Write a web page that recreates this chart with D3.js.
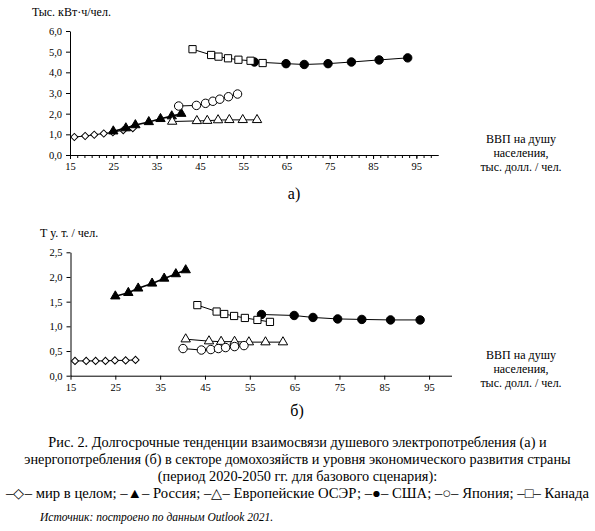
<!DOCTYPE html>
<html>
<head>
<meta charset="utf-8">
<script src="https://cdn.jsdelivr.net/npm/d3@7"></script>
<style>
  body { margin: 0; background: #fff; }
  .domain, .tick line { stroke: #000; }
  .tick text { fill: #000; }
</style>
</head>
<body>
<svg id="chart" width="595" height="531"></svg>
<script>
// --- data ---
const years = [2020, 2025, 2030, 2035, 2040, 2045, 2050];
const xTicks = [15, 25, 35, 45, 55, 65, 75, 85, 95];

// GDP per capita, thous. USD / person
const gdpWorld = [16, 18.5, 20.6, 22.8, 24.9, 27.3, 29.5];
const gdpRussia = [25, 27.9, 30.1, 33.2, 35.9, 38.5, 40.7];
const gdpEuropeA = [38.6, 44.3, 46.7, 49.2, 51.8, 54.9, 58.2];
const gdpEuropeB = [40.7, 45.9, 48.6, 51.6, 54.8, 58.5, 62.4];
const gdpUSA = [57.6, 64.9, 69.1, 74.6, 80, 86.4, 93];
const gdpJapan = [40.1, 44.2, 46.3, 48, 49.6, 51.6, 53.7];
const gdpCanada = [43.3, 47.6, 49.3, 51.5, 53.9, 56.7, 59.5];

// (a) electricity, thous. kWh / person
const elWorld = [0.87, 0.92, 0.98, 1.04, 1.1, 1.2, 1.3];
const elRussia = [1.15, 1.3, 1.45, 1.6, 1.75, 1.88, 2.0];
const elEurope = [1.62, 1.65, 1.66, 1.69, 1.7, 1.7, 1.7];
const elUSA = [4.5, 4.42, 4.38, 4.42, 4.5, 4.6, 4.7];
const elJapan = [2.37, 2.4, 2.5, 2.6, 2.7, 2.82, 2.95];
const elCanada = [5.12, 4.84, 4.76, 4.68, 4.61, 4.56, 4.45];

// (б) energy, toe / person
const enWorld = [0.3, 0.3, 0.3, 0.3, 0.31, 0.31, 0.32];
const enRussia = [1.61, 1.68, 1.77, 1.87, 1.97, 2.06, 2.14];
const enEurope = [0.74, 0.7, 0.69, 0.69, 0.68, 0.68, 0.68];
const enUSA = [1.24, 1.22, 1.18, 1.15, 1.14, 1.13, 1.13];
const enJapan = [0.55, 0.52, 0.53, 0.55, 0.57, 0.59, 0.61];
const enCanada = [1.43, 1.3, 1.25, 1.21, 1.17, 1.13, 1.09];

const SERIF = "'Liberation Serif', 'Times New Roman', serif";
const svg = d3.select("#chart").attr("font-family", SERIF);
const fmt = d => d3.format(".1f")(d).replace(".", ",");

const markers = {
  world:  { type: d3.symbolSquare, size: 26, rotate: 45, fill: "#fff" },
  russia: { type: d3.symbolTriangle, size: 38, fill: "#000", width: 1.6 },
  europe: { type: d3.symbolTriangle, size: 38, fill: "#fff" },
  usa:    { type: d3.symbolCircle, size: 56, fill: "#000" },
  japan:  { type: d3.symbolCircle, size: 56, fill: "#fff" },
  canada: { type: d3.symbolSquare, size: 52, fill: "#fff" }
};

function drawPanel(cfg) {
  const x = d3.scaleLinear().domain([15, 100]).range(cfg.xRange);
  const y = d3.scaleLinear().domain(cfg.yDomain).range(cfg.yRange);
  const g = svg.append("g");

  if (cfg.minor) {
    g.append("g")
      .attr("transform", `translate(0,${cfg.yRange[0]})`)
      .call(d3.axisBottom(x).tickValues(d3.range(15, 100, 5 / 3)).tickSize(3).tickSizeOuter(0).tickFormat(""));
  }
  g.append("g")
    .attr("transform", `translate(0,${cfg.yRange[0]})`)
    .call(d3.axisBottom(x).tickValues(xTicks).tickSize(4).tickSizeOuter(0).tickPadding(4))
    .attr("font-family", SERIF)
    .attr("font-size", 10.5);

  g.append("g")
    .attr("transform", `translate(${cfg.xRange[0]},0)`)
    .call(d3.axisLeft(y).tickValues(cfg.yTicks).tickFormat(fmt).tickSize(4).tickSizeOuter(0).tickPadding(4))
    .attr("font-family", SERIF)
    .attr("font-size", 10.5);

  const line = d3.line().x(d => x(d[0])).y(d => y(d[1]));

  cfg.series.forEach(s => {
    const pts = s.gdp.map((v, i) => [v, s.vals[i]]);
    const m = markers[s.key];
    g.append("path")
      .datum(pts)
      .attr("fill", "none")
      .attr("stroke", "#000")
      .attr("stroke-width", m.width || 1)
      .attr("d", line);
    g.selectAll(null)
      .data(pts)
      .join("path")
      .attr("transform", d => `translate(${x(d[0])},${y(d[1])}) rotate(${m.rotate || 0})`)
      .attr("d", d3.symbol().type(m.type).size(m.size))
      .attr("fill", m.fill)
      .attr("stroke", "#000")
      .attr("stroke-width", 1);
  });

  // y title
  g.append("text")
    .attr("x", cfg.yTitleX)
    .attr("y", cfg.yTitleY)
    .attr("font-family", SERIF)
    .attr("font-size", 12)
    .text(cfg.yTitle);

  // x title
  const xt = g.append("text")
    .attr("text-anchor", "middle")
    .attr("font-family", SERIF)
    .attr("font-size", 12);
  ["ВВП на душу", "населения,", "тыс. долл. / чел."].forEach((t, i) => {
    xt.append("tspan").attr("x", 521).attr("y", cfg.xTitleY + i * 14).text(t);
  });

  g.append("text")
    .attr("x", cfg.labelX)
    .attr("y", cfg.labelY)
    .attr("text-anchor", "middle")
    .attr("font-family", SERIF)
    .attr("font-size", 16)
    .text(cfg.label);
}

drawPanel({
  xRange: [70, 438],
  yDomain: [0, 6],
  yRange: [155, 31],
  yTicks: [0, 1, 2, 3, 4, 5, 6],
  minor: true,
  yTitle: "Тыс. кВт·ч/чел.",
  yTitleX: 32, yTitleY: 16,
  xTitleY: 143,
  label: "а)", labelX: 294, labelY: 199,
  series: [
    { key: "world", gdp: gdpWorld, vals: elWorld },
    { key: "russia", gdp: gdpRussia, vals: elRussia },
    { key: "europe", gdp: gdpEuropeA, vals: elEurope },
    { key: "usa", gdp: gdpUSA, vals: elUSA },
    { key: "japan", gdp: gdpJapan, vals: elJapan },
    { key: "canada", gdp: gdpCanada, vals: elCanada }
  ]
});

drawPanel({
  xRange: [70.5, 451.5],
  yDomain: [0, 2.5],
  yRange: [375.7, 252.3],
  yTicks: [0, 0.5, 1, 1.5, 2, 2.5],
  minor: false,
  yTitle: "Т у. т. / чел.",
  yTitleX: 40, yTitleY: 237,
  xTitleY: 359,
  label: "б)", labelX: 297, labelY: 416,
  series: [
    { key: "world", gdp: gdpWorld, vals: enWorld },
    { key: "russia", gdp: gdpRussia, vals: enRussia },
    { key: "europe", gdp: gdpEuropeB, vals: enEurope },
    { key: "usa", gdp: gdpUSA, vals: enUSA },
    { key: "japan", gdp: gdpJapan, vals: enJapan },
    { key: "canada", gdp: gdpCanada, vals: enCanada }
  ]
});

// caption
const caption = [
  "Рис. 2. Долгосрочные тенденции взаимосвязи душевого электропотребления (а) и",
  "энергопотребления (б) в секторе домохозяйств и уровня экономического развития страны",
  "(период 2020-2050 гг. для базового сценария):",
  "–◇– мир в целом; –▲– Россия; –△– Европейские ОСЭР; –●– США; –○– Япония; –□– Канада"
];
caption.forEach((t, i) => {
  const el = svg.append("text")
    .attr("x", 297.5)
    .attr("y", 447 + i * 17)
    .attr("text-anchor", "middle")
    .attr("font-family", SERIF)
    .attr("font-size", 14.3)
    .text(t);
  if (i === 3) el.attr("textLength", 583).attr("lengthAdjust", "spacingAndGlyphs");
});
svg.append("text")
  .attr("x", 40)
  .attr("y", 521)
  .attr("font-family", SERIF)
  .attr("font-size", 11.5)
  .attr("font-style", "italic")
  .text("Источник: построено по данным Outlook 2021.");
</script>
</body>
</html>
